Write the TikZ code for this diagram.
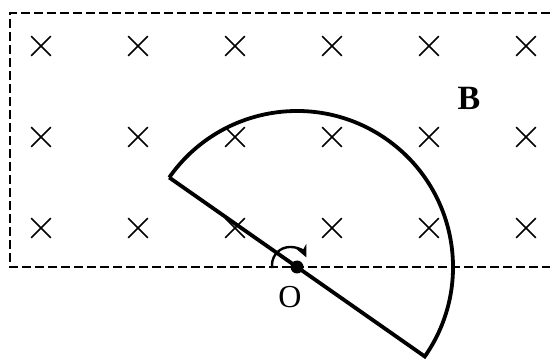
\documentclass[tikz,border=0pt]{standalone}
\usepackage{fontspec}
\setmainfont{Liberation Serif}
\usepackage{tikz}
\usetikzlibrary{shapes.misc,arrows.meta,calc}

\begin{document}
\begin{tikzpicture}[
    x=0.5pt, y=0.5pt,
    field/.style={
      dashed,
      dash pattern=on 4.5pt off 2pt,
      line width=0.9pt
    },
    cross/.style={
      draw,
      cross out,
      inner sep=0pt,
      minimum size=9pt,
      line width=0.85pt
    },
    frame/.style={draw, line width=1.9pt, line join=miter},
    pivot/.style={circle, fill, inner sep=0pt, minimum size=6.5pt},
]
    \useasboundingbox (0,0) rectangle (550,358);

    % magnetic field region
    \coordinate (tr) at (550,345);
    \coordinate (bl) at (10,91);
    \coordinate (br) at (550,91);
    \draw [field] (tr) -| (bl) -- (br);

    \foreach \col in {0,...,5}
      \foreach \row/\yy in {0/312,1/221,2/130}
        \node [cross] (x\col\row) at (41+97*\col,\yy) {};

    \node at (469,260) (field) {\fontsize{17}{19}\selectfont\textbf{B}};

    % semicircular loop
    \node [pivot] (o) at (297,91) {};
    \coordinate (a) at ($(o)+(145:78pt)$);
    \coordinate (b) at ($(o)+(-35:78pt)$);
    \draw [frame] (a) -- (b) arc [start angle=-35, end angle=145, radius=78pt];

    \node at (290,61) (olabel) {\fontsize{16}{18}\selectfont O};

    % sense of rotation
    \coordinate (c) at ($(o)+(-7,2)$);
    \draw [line width=1.2pt, -{Stealth[length=6pt,width=5.5pt]}]
      ($(c)+(190:9pt)$) arc [start angle=190, end angle=25, radius=9pt];

\end{tikzpicture}
\end{document}
